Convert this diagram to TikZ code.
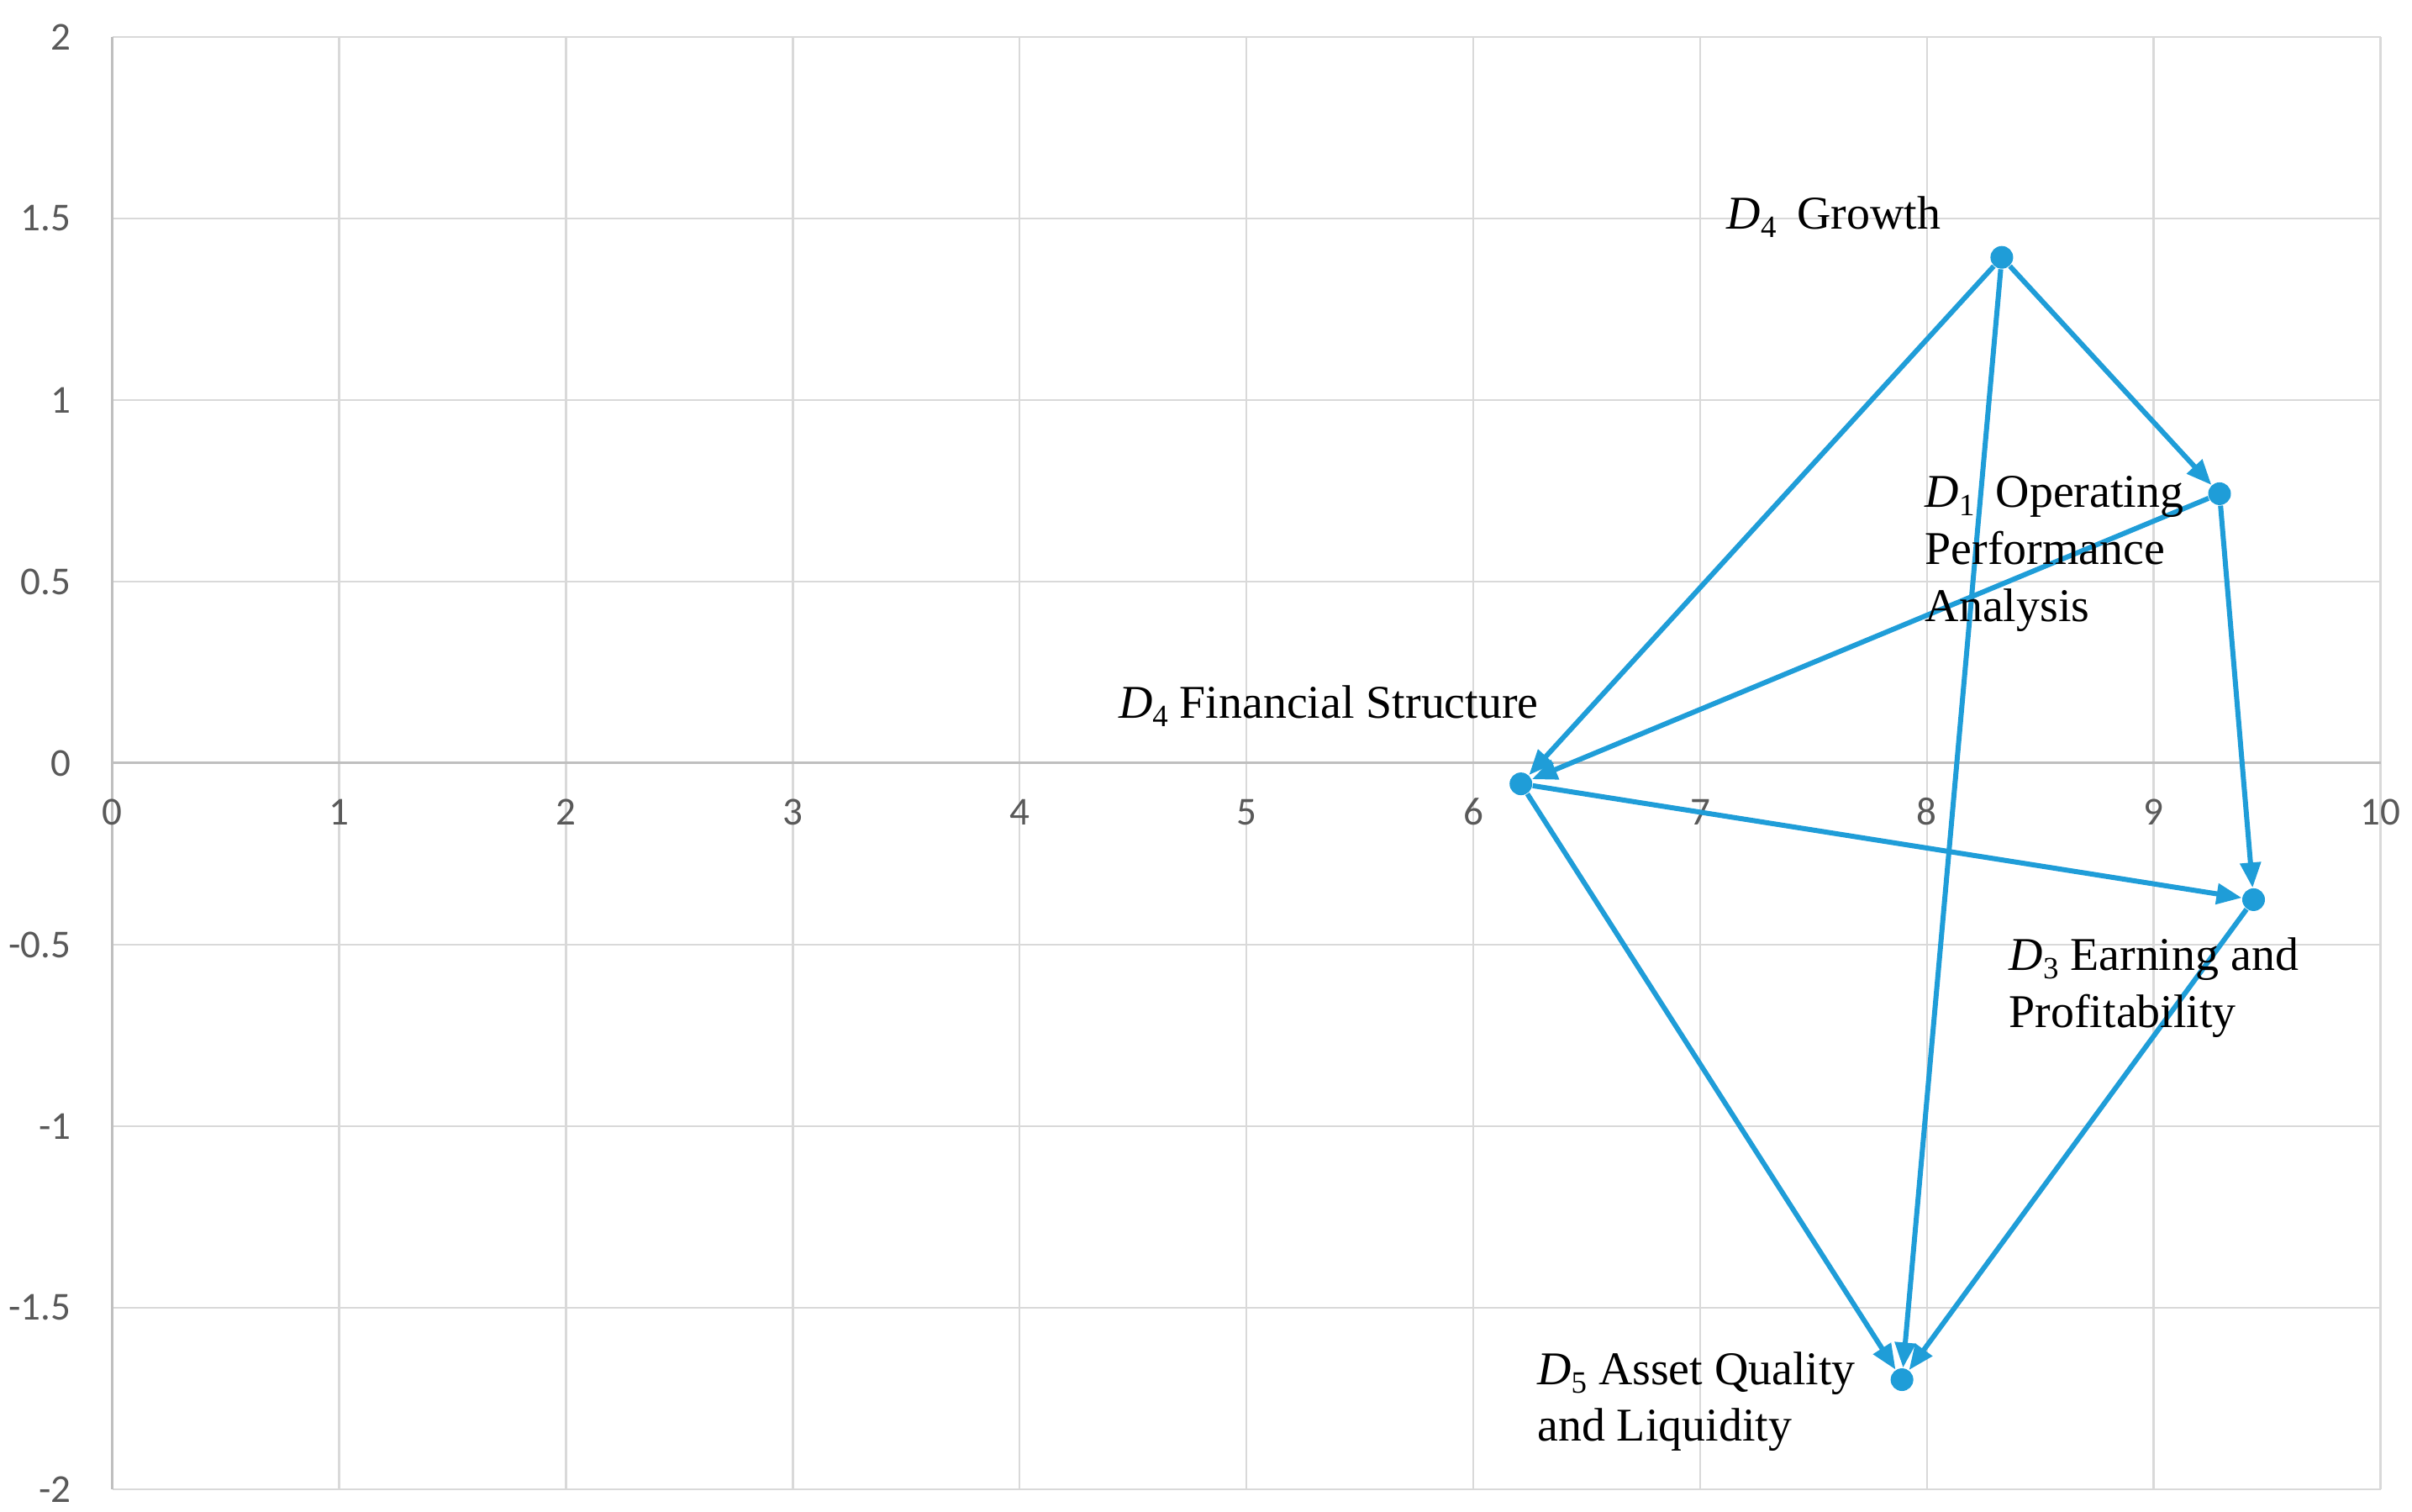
\documentclass[tikz,border=0pt]{standalone}
\usepackage{fontspec}
\setmainfont{Liberation Serif}
\newfontfamily\tickfont{Carlito}
\usetikzlibrary{arrows.meta}
\definecolor{lineblue}{RGB}{31,157,216}
\definecolor{gridgray}{RGB}{217,217,217}
\definecolor{axisgray}{RGB}{191,191,191}
\definecolor{ticktext}{RGB}{89,89,89}
\newcommand{\Dlab}[1]{\textit{D}\raisebox{-0.1cm}{\fontsize{10.5}{10.5}\selectfont #1}}
\begin{document}
\begin{tikzpicture}[
  pt/.style={circle,fill=lineblue,inner sep=0pt,minimum size=0.27cm},
  conn/.style={draw=lineblue,line width=0.06cm,-{Triangle[length=0.3cm,width=0.24cm]}},
  lab/.style={inner sep=0pt,anchor=base west,align=left,font=\fontsize{15.9}{19.3}\selectfont},
  xtick/.style={inner sep=0pt,anchor=base,text=ticktext,font=\tickfont\fontsize{13.4}{13.4}\selectfont},
  ytick/.style={inner sep=0pt,anchor=east,text=ticktext,font=\tickfont\fontsize{13.4}{13.4}\selectfont},
  gridline/.style={draw=gridgray,line width=0.025cm},
  axisline/.style={draw=axisgray,line width=0.03cm},
]
\useasboundingbox (0,0) rectangle (28.70,17.98);
\begin{scope}[shift={(1.336,8.90)},x=2.699cm,y=4.32cm]
  % grid
  \foreach \x in {1,...,10} \draw[gridline] (\x,-2) -- (\x,2);
  \foreach \y in {-2,-1.5,-1,-0.5,0.5,1,1.5,2} \draw[gridline] (0,\y) -- (10,\y);
  \draw[axisline] (0,-2) -- (0,2);
  \draw[axisline] (0,0) -- (10,0);
  % tick labels
  \foreach \x in {0,...,10} \node[xtick] (xt\x) at (\x,-0.169) {\x};
  \foreach \y/\t [count=\i] in {2/2,1.5/1.5,1/1,0.5/0.5,0/0,-0.5/-0.5,-1/-1,-1.5/-1.5,-2/-2}
    \node[ytick] (yt\i) at (-0.18,\y) {\t};
  % points
  \node[pt] (G) at (8.33,1.393) {};
  \node[pt] (O) at (9.29,0.742) {};
  \node[pt] (F) at (6.21,-0.057) {};
  \node[pt] (E) at (9.44,-0.376) {};
  \node[pt] (A) at (7.89,-1.698) {};
  % connectors
  \draw[conn] (G) -- (O);
  \draw[conn] (G) -- (F);
  \draw[conn] (G) -- (A);
  \draw[conn] (O) -- (F);
  \draw[conn] (O) -- (E);
  \draw[conn] (F) -- (E);
  \draw[conn] (F) -- (A);
  \draw[conn] (E) -- (A);
  % labels (multi-line labels are placed by the baseline of their last line)
  \node[lab] (lG) at (7.115,1.472) {\Dlab{4}\hspace{0.45em}Growth};
  \node[lab] (lO) at (7.99,0.391) {\Dlab{1}\hspace{0.45em}Operating\\Performance\\Analysis};
  \node[lab] (lF) at (4.434,0.123) {\Dlab{4} Financial Structure};
  \node[lab] (lE) at (8.36,-0.727) {\Dlab{3} Earning and\\Profitability};
  \node[lab] (lA) at (6.28,-1.868) {\Dlab{5} Asset Quality\\and Liquidity};
\end{scope}
\end{tikzpicture}
\end{document}
